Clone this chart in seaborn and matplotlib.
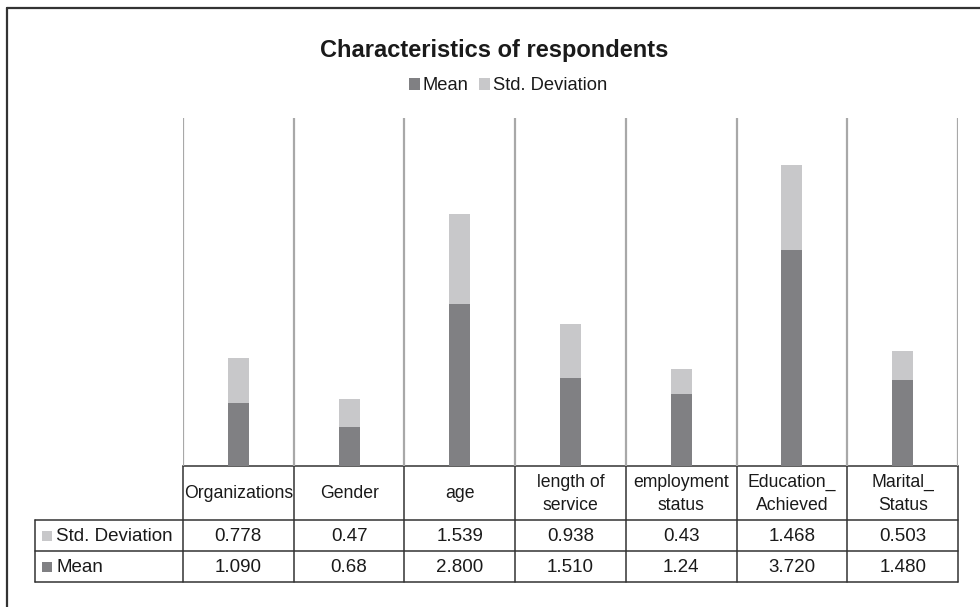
import numpy as np
import pandas as pd
import matplotlib
matplotlib.use("Agg")
import matplotlib.pyplot as plt
from matplotlib.patches import Patch, Rectangle
import seaborn as sns

# Data
categories = ["Organizations", "Gender", "age", "length of\nservice",
              "employment\nstatus", "Education_\nAchieved", "Marital_\nStatus"]
mean_values = [1.090, 0.68, 2.800, 1.510, 1.24, 3.720, 1.480]
std_values = [0.778, 0.47, 1.539, 0.938, 0.43, 1.468, 0.503]
mean_labels = ["1.090", "0.68", "2.800", "1.510", "1.24", "3.720", "1.480"]
std_labels = ["0.778", "0.47", "1.539", "0.938", "0.43", "1.468", "0.503"]
series_names = ["Mean", "Std. Deviation"]

MEAN_COLOR = "#808083"
STD_COLOR = "#c8c8ca"
GRID_COLOR = "#a8a8a8"
LINE_COLOR = "#333333"
TEXT_COLOR = "#1a1a1a"

sns.set_theme(style="white")
plt.rcParams["font.family"] = ["Liberation Sans", "DejaVu Sans"]

W, H = 980, 607
fig = plt.figure(figsize=(W / 100, H / 100), dpi=100)
fig.patch.set_facecolor("white")


def px_rect(x0, y0, x1, y1):
    return [x0 / W, 1 - y1 / H, (x1 - x0) / W, (y1 - y0) / H]


# Overlay in pixel coordinates for the frame and the data table
tax = fig.add_axes([0, 0, 1, 1], zorder=0)
tax.set_xlim(0, W)
tax.set_ylim(H, 0)
tax.axis("off")

# Stacked bars: totals in light grey, means drawn over them
ax = fig.add_axes(px_rect(183, 118, 958, 466), zorder=1)
ax.patch.set_alpha(0)
df = pd.DataFrame({"category": categories,
                   "Mean": mean_values,
                   "Std. Deviation": std_values})
df["total"] = df["Mean"] + df["Std. Deviation"]
sns.barplot(data=df, x="category", y="total", color=STD_COLOR, width=0.19,
            saturation=1, linewidth=0, ax=ax)
sns.barplot(data=df, x="category", y="Mean", color=MEAN_COLOR, width=0.19,
            saturation=1, linewidth=0, ax=ax)
ax.set_ylim(0, 6)
ax.set_xlim(-0.5, len(categories) - 0.5)
ax.set_xticks(np.arange(-0.5, len(categories), 1.0), minor=True)
ax.set_yticks([])
ax.tick_params(which="both", length=0, labelbottom=False)
ax.grid(False)
ax.grid(which="minor", axis="x", color=GRID_COLOR, lw=1.6)
ax.set_xlabel("")
ax.set_ylabel("")
for s in ax.spines.values():
    s.set_visible(False)
for line in ax.get_xgridlines():
    line.set_clip_on(False)

# Title and legend
fig.text(494 / W, 1 - 50 / H, "Characteristics of respondents",
         ha="center", va="center", fontsize=17, fontweight="bold", color=TEXT_COLOR)
handles = [Patch(facecolor=MEAN_COLOR, edgecolor="none"),
           Patch(facecolor=STD_COLOR, edgecolor="none")]
fig.legend(handles, series_names, loc="center", bbox_to_anchor=(508 / W, 1 - 86 / H),
           ncol=2, frameon=False, handlelength=0.6, handleheight=0.6,
           handletextpad=0.15, columnspacing=0.6, fontsize=13.2,
           labelcolor=TEXT_COLOR)

# Outer frame (top and left edges)
tax.plot([7, 7], [8, H], color=LINE_COLOR, lw=1.6, clip_on=False)
tax.plot([7, W], [8, 8], color=LINE_COLOR, lw=1.6, clip_on=False)

# Data table
x_left, x0, x1 = 35, 183, 958
y_head, y_std, y_mean, y_end = 466, 520, 551, 582
n = len(categories)
col_w = (x1 - x0) / n
col_edges = [x0 + i * col_w for i in range(n + 1)]

lw = 1.1
tax.plot([x0, x1], [y_head, y_head], color=LINE_COLOR, lw=lw)
for y in (y_std, y_mean, y_end):
    tax.plot([x_left, x1], [y, y], color=LINE_COLOR, lw=lw)
tax.plot([x_left, x_left], [y_std, y_end], color=LINE_COLOR, lw=lw)
for xe in col_edges:
    tax.plot([xe, xe], [y_head, y_end], color=LINE_COLOR, lw=lw)

head_fs = 12.7
val_fs = 13.5
for i, cat in enumerate(categories):
    cx = x0 + (i + 0.5) * col_w
    tax.text(cx, (y_head + y_std) / 2 + 1, cat, ha="center", va="center",
             fontsize=head_fs, color=TEXT_COLOR, linespacing=1.4)
    tax.text(cx, (y_std + y_mean) / 2 + 1, std_labels[i], ha="center", va="center",
             fontsize=val_fs, color=TEXT_COLOR)
    tax.text(cx, (y_mean + y_end) / 2 + 1, mean_labels[i], ha="center", va="center",
             fontsize=val_fs, color=TEXT_COLOR)

row_specs = [("Std. Deviation", STD_COLOR, (y_std + y_mean) / 2),
             ("Mean", MEAN_COLOR, (y_mean + y_end) / 2)]
for label, color, cy in row_specs:
    tax.add_patch(Rectangle((42, cy - 5), 10, 10, facecolor=color, edgecolor="none"))
    tax.text(56, cy + 1, label, ha="left", va="center", fontsize=val_fs, color=TEXT_COLOR)

fig.savefig("out.png", dpi=100, facecolor="white")
